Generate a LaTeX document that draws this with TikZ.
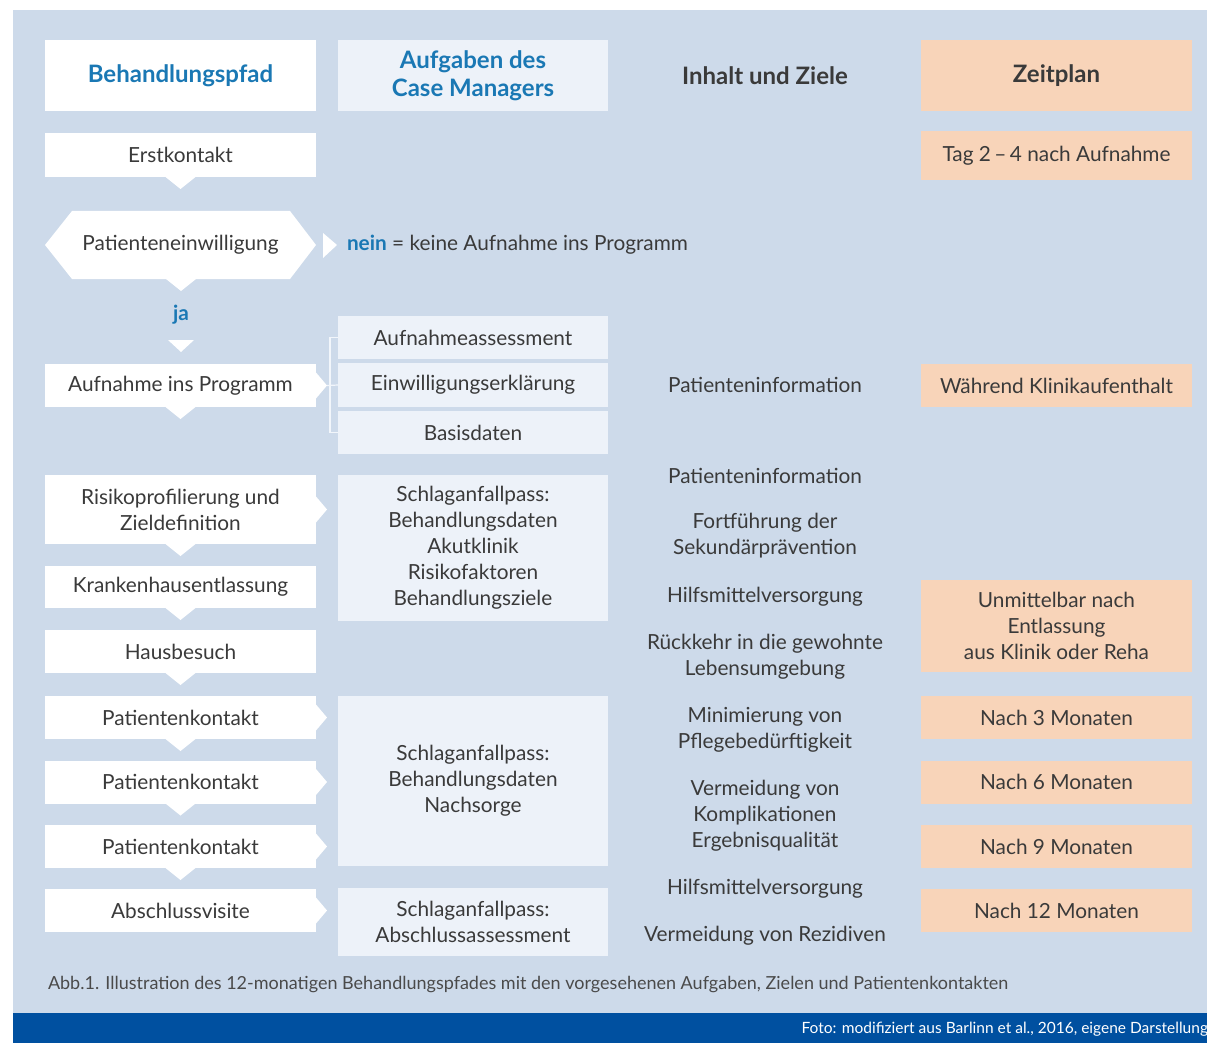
\documentclass[tikz,border=0pt]{standalone}
\usepackage{fontspec}
\setmainfont{Lato}
\usetikzlibrary{calc}
\definecolor{pagebg}{HTML}{CDDAEA}
\definecolor{taskfill}{HTML}{EDF2F9}
\definecolor{timefill}{HTML}{F8D4B9}
\definecolor{headblue}{HTML}{1A78B4}
\definecolor{bodytext}{HTML}{3A3A3A}
\definecolor{captiongray}{HTML}{4A4A4A}
\definecolor{barblue}{HTML}{0050A0}
\definecolor{bracketline}{HTML}{F2F6FB}
\tikzset{
  base/.style={inner sep=0pt, outer sep=0pt, align=center, text=bodytext,
    font=\fontsize{20.8}{26}\selectfont},
  pathbox/.style={base, fill=white, minimum width=271pt},
  taskbox/.style={base, fill=taskfill, minimum width=270pt},
  timebox/.style={base, fill=timefill, minimum width=271pt},
  goal/.style={base},
  head/.style={font=\bfseries\fontsize{24}{28}\selectfont},
}
\begin{document}
\begin{tikzpicture}[x=1pt, y=-1pt]
    \def\downnotch#1{\fill[white] ($(#1.south)+(-15,0)$) -- ($(#1.south)+(15,0)$) -- ($(#1.south)+(0,12)$) -- cycle;}
    \def\rightnotch#1{\fill[white] ($(#1.east)+(0,-13)$) -- ($(#1.east)+(11,0)$) -- ($(#1.east)+(0,13)$) -- cycle;}
    \useasboundingbox (0,0) rectangle (1207,1043);
    \fill[pagebg] (13,10) rectangle (1207,1013);
    \fill[barblue] (13,1013) rectangle (1207,1043);

    % header row
    \node[pathbox, head, text=headblue, minimum height=71pt] (hpath) at (180.5,75.5) {Behandlungspfad};
    \node[taskbox, head, text=headblue, minimum height=71pt] (htask) at (473,75.5) {Aufgaben des\\Case Managers};
    \node[goal, head] (hgoal) at (765,75.5) {Inhalt und Ziele};
    \node[timebox, head, minimum height=71pt] (htime) at (1056.5,75.5) {Zeitplan};

    % first contact and consent
    \node[pathbox, minimum height=44pt] (first) at (180.5,155) {Erstkontakt};
    \downnotch{first}
    \node[timebox, minimum height=49pt] (tday) at (1056.5,155.5) {Tag 2\,--\,4 nach Aufnahme};
    \fill[white] (45,245) -- (72,211) -- (290,211) -- (316,245) -- (290,279) -- (72,279) -- cycle;
    \node[goal] (consent) at (180.5,245) {Patienteneinwilligung};
    \fill[white] (166,279) -- (196,279) -- (181,291) -- cycle;
    \fill[white] (323,233) -- (337,245) -- (323,258) -- cycle;
    \node[goal, anchor=west] (nein) at (347,245) {{\color{headblue}\bfseries nein} = keine Aufnahme ins Programm};
    \node[goal, text=headblue, font=\bfseries\fontsize{20.8}{26}\selectfont] (ja) at (181,315) {ja};
    \fill[white] (168,340) -- (194,340) -- (181,352) -- cycle;

    % admission
    \node[pathbox, minimum height=43pt] (admit) at (180.5,385.5) {Aufnahme ins Programm};
    \downnotch{admit}
    \rightnotch{admit}
    \node[taskbox, minimum height=43pt] (assess) at (473,337.5) {Aufnahmeassessment};
    \node[taskbox, minimum height=44pt] (consentdoc) at (473,385) {Einwilligungserklärung};
    \node[taskbox, minimum height=43pt] (basic) at (473,432.5) {Basisdaten};
    \draw[bracketline, line width=1.2pt] (assess.west) -- ++(-8,0) |- (basic.west);
    \draw[bracketline, line width=1.2pt] ($(admit.east)+(11,0)$) -- (consentdoc.west);
    \node[goal] (info1) at (765,385) {Patienteninformation};
    \node[timebox, minimum height=43pt] (tclinic) at (1056.5,385.5) {Während Klinikaufenthalt};

    % risk profile, discharge, home visit
    \node[pathbox, minimum height=69pt] (risk) at (180.5,509.5) {Risikoprofilierung und\\Zieldefinition};
    \downnotch{risk}
    \rightnotch{risk}
    \node[pathbox, minimum height=42pt] (discharge) at (180.5,587) {Krankenhausentlassung};
    \downnotch{discharge}
    \node[pathbox, minimum height=43pt] (home) at (180.5,651.5) {Hausbesuch};
    \downnotch{home}
    \node[taskbox, minimum height=146pt] (passacute) at (473,548) {Schlaganfallpass:\\Behandlungsdaten\\Akutklinik\\Risikofaktoren\\Behandlungsziele};
    \node[goal] (info2) at (765,476) {Patienteninformation};
    \node[goal] (secondary) at (765,536) {Fortführung der\\Sekundärprävention};
    \node[goal] (aids1) at (765,597) {Hilfsmittelversorgung};
    \node[goal] (return) at (765,657) {Rückkehr in die gewohnte\\Lebensumgebung};
    \node[timebox, minimum height=92pt] (tafter) at (1056.5,626) {Unmittelbar nach\\Entlassung\\aus Klinik oder Reha};

    % follow-up contacts
    \foreach \n/\y/\t in {1/717.5/3, 2/782/6, 3/846.5/9} {
        \node[pathbox, minimum height=43pt] (contact\n) at (180.5,\y) {Patientenkontakt};
        \downnotch{contact\n}
        \rightnotch{contact\n}
        \node[timebox, minimum height=43pt] (tmonth\n) at (1056.5,\y) {Nach \t\ Monaten};
    }
    \node[pathbox, minimum height=43pt] (final) at (180.5,910.5) {Abschlussvisite};
    \rightnotch{final}
    \node[timebox, minimum height=43pt] (tmonth4) at (1056.5,910.5) {Nach 12 Monaten};
    \node[taskbox, minimum height=170pt] (passcare) at (473,781) {Schlaganfallpass:\\Behandlungsdaten\\Nachsorge};
    \node[taskbox, minimum height=68pt] (passfinal) at (473,922) {Schlaganfallpass:\\Abschlussassessment};
    \node[goal] (care) at (765,729.5) {Minimierung von\\Pflegebedürftigkeit};
    \node[goal] (quality) at (765,816) {Vermeidung von\\Komplikationen\\Ergebnisqualität};
    \node[goal] (aids2) at (765,889) {Hilfsmittelversorgung};
    \node[goal] (relapse) at (765,936) {Vermeidung von Rezidiven};

    % caption and credit
    \node[base, anchor=west, text=captiongray, font=\fontsize{18}{22}\selectfont] (caption) at (48,985)
        {Abb.1. Illustration des 12-monatigen Behandlungspfades mit den vorgesehenen Aufgaben, Zielen und Patientenkontakten};
    \node[base, anchor=east, text=white, font=\fontsize{15.5}{18}\selectfont] (credit) at (1208,1029)
        {Foto: modifiziert aus Barlinn et al., 2016, eigene Darstellung};
\end{tikzpicture}
\end{document}
